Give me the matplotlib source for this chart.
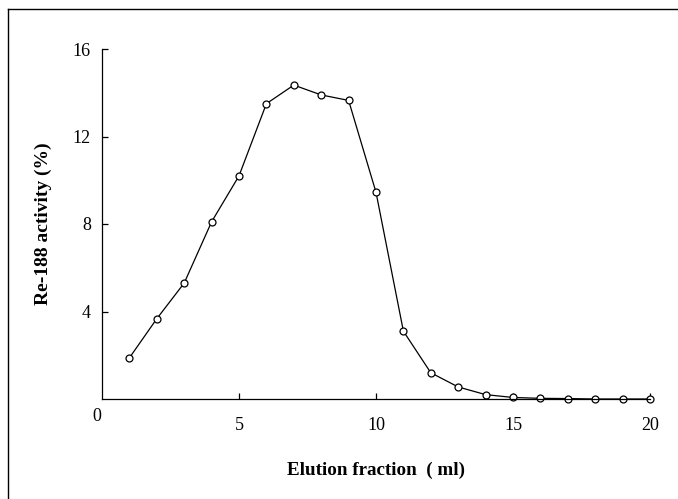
import matplotlib
matplotlib.use("Agg")
import matplotlib.pyplot as plt
from matplotlib.lines import Line2D

# ── Data ─────────────────────────────────────────────────────
fraction = [1, 2, 3, 4, 5, 6, 7, 8, 9, 10,
            11, 12, 13, 14, 15, 16, 17, 18, 19, 20]
activity = [1.88, 3.67, 5.3, 8.1, 10.2, 13.5, 14.35, 13.9, 13.65, 9.45,
            3.1, 1.2, 0.55, 0.2, 0.07, 0.03, 0.02, 0.0, 0.0, 0.0]
xticks = [5, 10, 15, 20]
yticks = [4, 8, 12, 16]

plt.rcParams["font.family"] = ["Liberation Serif", "DejaVu Serif"]

fig = plt.figure(figsize=(6.78, 4.99), dpi=100)
ax = fig.add_axes([102 / 678, 1 - 399 / 499, 548 / 678, 350 / 499])

ax.plot(fraction, activity, color="black", linewidth=0.9,
        marker="o", markersize=5, markerfacecolor="white",
        markeredgecolor="black", markeredgewidth=0.9, clip_on=False)

ax.set_xlim(0, 20)
ax.set_ylim(0, 16)
ax.set_xticks(xticks)
ax.set_yticks(yticks)
ax.tick_params(direction="in", length=4, width=0.9, labelsize=13,
               pad=8)
ax.tick_params(axis="x", pad=13)
ax.text(-0.2, -0.8, "0", ha="center", va="center", fontsize=13)

ax.spines["top"].set_visible(False)
ax.spines["right"].set_visible(False)
for s in ("left", "bottom"):
    ax.spines[s].set_linewidth(0.9)

ax.set_xlabel("Elution fraction  ( ml)", fontsize=13.7, fontweight="bold",
              labelpad=20)
ax.set_ylabel("Re-188 activity (%)", fontsize=14, fontweight="bold",
              labelpad=15)

# frame round the figure (left and top edges visible)
fig.add_artist(Line2D([8 / 678, 8 / 678], [0, 1 - 9 / 499],
                      color="black", linewidth=1.0))
fig.add_artist(Line2D([8 / 678, 1], [1 - 9 / 499, 1 - 9 / 499],
                      color="black", linewidth=1.0))

fig.savefig("out.png", dpi=100, facecolor="white")
